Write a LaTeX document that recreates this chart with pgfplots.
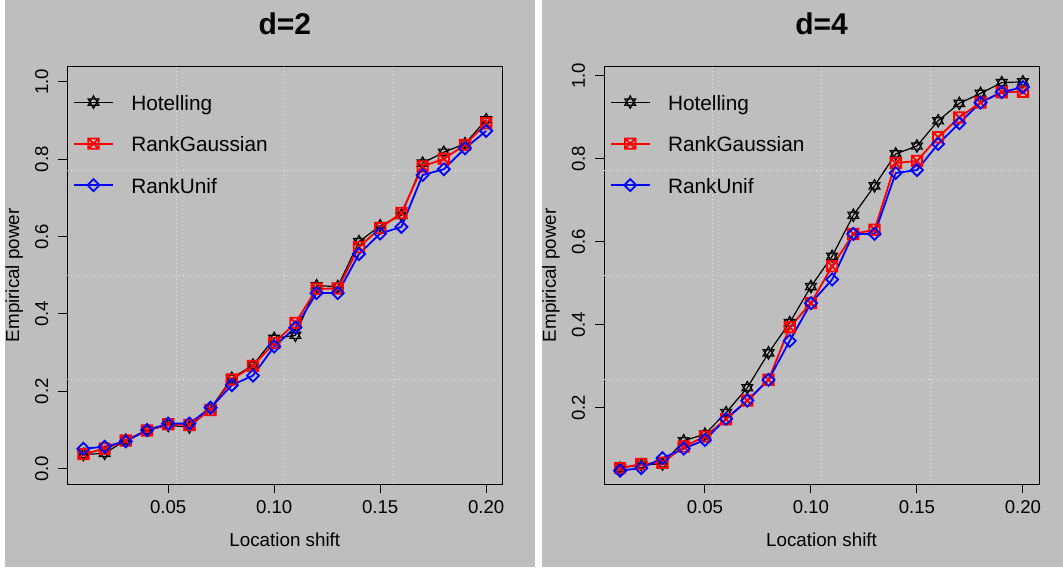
\documentclass[border=0pt]{standalone}
\usepackage{pgfplots}
\usepackage{pgfplotstable}
\pgfplotsset{compat=1.18}
\usepackage{fontspec}
\setmainfont{Liberation Sans}
\definecolor{rgray}{HTML}{BEBEBE}
\definecolor{gridc}{HTML}{E6E6E6}

\pgfdeclareplotmark{starofdavid}{%
 \pgfpathmoveto{\pgfqpoint{0pt}{\pgfplotmarksize}}%
 \pgfpathlineto{\pgfqpoint{0.866\pgfplotmarksize}{-0.5\pgfplotmarksize}}%
 \pgfpathlineto{\pgfqpoint{-0.866\pgfplotmarksize}{-0.5\pgfplotmarksize}}%
 \pgfpathclose
 \pgfpathmoveto{\pgfqpoint{0pt}{-\pgfplotmarksize}}%
 \pgfpathlineto{\pgfqpoint{0.866\pgfplotmarksize}{0.5\pgfplotmarksize}}%
 \pgfpathlineto{\pgfqpoint{-0.866\pgfplotmarksize}{0.5\pgfplotmarksize}}%
 \pgfpathclose
 \pgfusepathqstroke}
\pgfdeclareplotmark{sqx}{%
 \pgfpathrectangle{\pgfqpoint{-\pgfplotmarksize}{-\pgfplotmarksize}}{\pgfqpoint{2\pgfplotmarksize}{2\pgfplotmarksize}}%
 \pgfpathmoveto{\pgfqpoint{-\pgfplotmarksize}{-\pgfplotmarksize}}%
 \pgfpathlineto{\pgfqpoint{\pgfplotmarksize}{\pgfplotmarksize}}%
 \pgfpathmoveto{\pgfqpoint{-\pgfplotmarksize}{\pgfplotmarksize}}%
 \pgfpathlineto{\pgfqpoint{\pgfplotmarksize}{-\pgfplotmarksize}}%
 \pgfusepathqstroke}
\pgfdeclareplotmark{rdiam}{%
 \pgfpathmoveto{\pgfqpoint{0pt}{\pgfplotmarksize}}%
 \pgfpathlineto{\pgfqpoint{\pgfplotmarksize}{0pt}}%
 \pgfpathlineto{\pgfqpoint{0pt}{-\pgfplotmarksize}}%
 \pgfpathlineto{\pgfqpoint{-\pgfplotmarksize}{0pt}}%
 \pgfpathclose
 \pgfusepathqstroke}

\pgfplotstableread{
x H G U
0.01 0.037 0.038 0.052
0.02 0.040 0.052 0.057
0.03 0.074 0.073 0.071
0.04 0.100 0.099 0.100
0.05 0.112 0.115 0.117
0.06 0.108 0.113 0.117
0.07 0.156 0.152 0.158
0.08 0.234 0.231 0.216
0.09 0.268 0.266 0.241
0.10 0.337 0.325 0.316
0.11 0.345 0.377 0.365
0.12 0.473 0.465 0.454
0.13 0.471 0.466 0.454
0.14 0.587 0.573 0.555
0.15 0.628 0.622 0.608
0.16 0.655 0.661 0.625
0.17 0.790 0.781 0.759
0.18 0.818 0.801 0.774
0.19 0.840 0.837 0.828
0.20 0.902 0.893 0.873
}\dataA

\pgfplotstableread{
x H G U
0.01 0.054 0.054 0.048
0.02 0.062 0.064 0.054
0.03 0.064 0.067 0.078
0.04 0.120 0.106 0.101
0.05 0.136 0.130 0.122
0.06 0.188 0.172 0.173
0.07 0.248 0.217 0.217
0.08 0.332 0.267 0.267
0.09 0.405 0.394 0.361
0.10 0.492 0.452 0.452
0.11 0.565 0.541 0.509
0.12 0.664 0.619 0.619
0.13 0.735 0.629 0.619
0.14 0.812 0.790 0.766
0.15 0.831 0.795 0.773
0.16 0.892 0.852 0.836
0.17 0.934 0.900 0.886
0.18 0.958 0.936 0.936
0.19 0.984 0.961 0.961
0.20 0.986 0.962 0.973
}\dataB

\tikzset{rgridline/.style={gridc, line width=0.5pt, dash pattern=on 0.5pt off 1.5pt}}
\pgfplotsset{
 legend image code/.code={\draw[mark repeat=2,mark phase=2,#1] plot coordinates {(0pt,1.4pt) (9.75pt,1.4pt) (19.5pt,1.4pt)};},
 rpanel/.style={
  scale only axis, width=217.5pt, height=209pt,
  xmin=0.0024, xmax=0.2076,
  xtick={0.05,0.10,0.15,0.20}, xticklabels={0.05,0.10,0.15,0.20},
  tick pos=left, tick align=outside, major tick length=4.5pt,
  axis line style={black,line width=0.5pt},
  every tick/.style={black,line width=0.5pt},
  ticklabel style={font=\fontsize{9.3}{11}\selectfont},
  yticklabel style={rotate=90,anchor=south},
  yticklabel shift=1.5pt,
  xticklabel style={anchor=north},
  label style={font=\fontsize{9.4}{11}\selectfont},
  xlabel={Location shift}, ylabel={Empirical power},
  xlabel style={at={(axis description cs:0.5,-0.1316)},anchor=center},
  ylabel style={at={(axis description cs:-0.1218,0.5)},anchor=center},
  title style={at={(axis description cs:0.5,1.0469)},anchor=base,font=\bfseries\fontsize{15}{18}\selectfont},
  legend style={draw=none, fill=none, inner sep=0pt, at={(axis description cs:0.0124,0.9318)}, anchor=north west,
    row sep=11.05pt, column sep=8.7pt, font=\fontsize{10.4}{12}\selectfont,
    nodes={inner sep=0pt, text height=7.5pt, text depth=2.2pt}},
  legend cell align=left,
 },
 hot/.style={black, line width=0.6pt, mark=starofdavid, mark size=3.1pt, mark options={solid}},
 rg/.style={red, line width=0.9pt, mark=sqx, mark size=2.6pt, mark options={solid}},
 ru/.style={blue, line width=0.9pt, mark=rdiam, mark size=3pt, mark options={solid}},
}
\newcommand{\rgrid}{%
  \draw[rgridline] (axis description cs:0.25,0) -- (axis description cs:0.25,1);
  \draw[rgridline] (axis description cs:0.5,0) -- (axis description cs:0.5,1);
  \draw[rgridline] (axis description cs:0.75,0) -- (axis description cs:0.75,1);
  \draw[rgridline] (axis description cs:0,0.25) -- (axis description cs:1,0.25);
  \draw[rgridline] (axis description cs:0,0.5) -- (axis description cs:1,0.5);
  \draw[rgridline] (axis description cs:0,0.75) -- (axis description cs:1,0.75);
}

\begin{document}
\begin{tikzpicture}
\useasboundingbox (0,0) rectangle (531.5pt,285.5pt);
\fill[white] (0,0) rectangle (531.5pt,285.5pt);
\fill[rgray] (2.5pt,2pt) rectangle (267.5pt,285.5pt);
\fill[rgray] (271pt,2pt) rectangle (531.5pt,285.5pt);

\begin{axis}[rpanel, at={(33.65pt,43.35pt)}, anchor=south west,
  ymin=-0.04, ymax=1.04, ytick={0,0.2,0.4,0.6,0.8,1.0},
  yticklabels={0.0,0.2,0.4,0.6,0.8,1.0}, title={d=2}]
\rgrid
\addplot[hot] table[x=x,y=H]{\dataA};
\addplot[rg] table[x=x,y=G]{\dataA};
\addplot[ru] table[x=x,y=U]{\dataA};
\legend{Hotelling,RankGaussian,RankUnif}
\end{axis}

\begin{axis}[rpanel, at={(302pt,43.35pt)}, anchor=south west,
  ymin=0.015, ymax=1.0234, ytick={0.2,0.4,0.6,0.8,1.0},
  yticklabels={0.2,0.4,0.6,0.8,1.0}, title={d=4}]
\rgrid
\addplot[hot] table[x=x,y=H]{\dataB};
\addplot[rg] table[x=x,y=G]{\dataB};
\addplot[ru] table[x=x,y=U]{\dataB};
\legend{Hotelling,RankGaussian,RankUnif}
\end{axis}
\end{tikzpicture}
\end{document}
